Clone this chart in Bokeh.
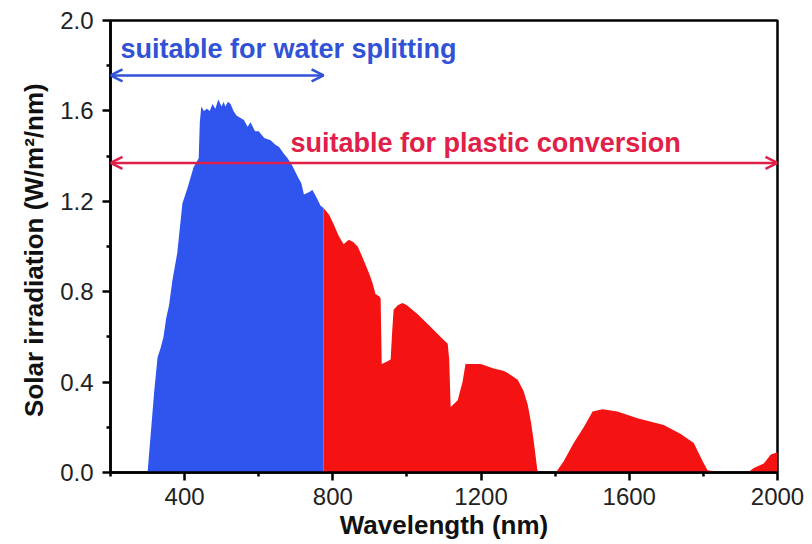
from bokeh.plotting import figure
from bokeh.models import (Arrow, OpenHead, Label, FixedTicker, PrintfTickFormatter, Range1d)
from bokeh.embed import file_html
from bokeh.resources import INLINE

# ---- data ----
wl_visible = [280, 300, 310, 318, 327, 335, 343, 350, 358, 367, 380, 394, 400, 408, 424, 438, 441, 445,
              452, 460, 468, 475, 483, 491, 500, 505, 510, 517, 524, 532, 540, 550, 560, 570, 578, 590,
              600, 615, 632, 645, 655, 668, 678, 690, 705, 715, 722, 735, 745, 755, 767, 775]
irr_visible = [0.0, 0.0, 0.20, 0.36, 0.51, 0.55, 0.60, 0.68, 0.74, 0.85, 0.97, 1.19, 1.22, 1.26, 1.35, 1.39, 1.55, 1.62,
               1.60, 1.61, 1.60, 1.63, 1.61, 1.65, 1.62, 1.64, 1.62, 1.64, 1.63, 1.60, 1.58, 1.57, 1.56, 1.53, 1.55, 1.51,
               1.51, 1.48, 1.47, 1.45, 1.44, 1.41, 1.39, 1.36, 1.31, 1.28, 1.23, 1.24, 1.25, 1.22, 1.18, 1.17]

wl_ir = [775, 790, 802, 815, 829, 843, 855, 867, 878, 888, 898, 907, 915, 925, 929, 932, 945, 956, 960,
         964, 975, 988, 1000, 1029, 1060, 1091, 1110, 1114, 1118, 1137, 1150, 1158, 1180, 1199, 1234,
         1260, 1272, 1299, 1315, 1326, 1335, 1342, 1352, 1360, 1400, 1406, 1423, 1450, 1477, 1501, 1528,
         1568, 1622, 1693, 1739, 1774, 1798, 1811, 1850, 1920, 1936, 1963, 1982, 2000]
irr_ir = [1.17, 1.14, 1.10, 1.05, 1.01, 1.03, 1.02, 1.00, 0.96, 0.92, 0.88, 0.84, 0.79, 0.78, 0.77, 0.48,
          0.49, 0.50, 0.62, 0.72, 0.74, 0.75, 0.74, 0.70, 0.65, 0.60, 0.57, 0.50, 0.29, 0.32, 0.40, 0.48,
          0.48, 0.48, 0.46, 0.45, 0.44, 0.41, 0.36, 0.30, 0.22, 0.14, 0.01, 0.0, 0.0, 0.01, 0.05, 0.13,
          0.20, 0.27, 0.28, 0.27, 0.24, 0.21, 0.17, 0.13, 0.05, 0.01, 0.0, 0.0, 0.02, 0.04, 0.08, 0.09]

x_ticks = [400, 800, 1200, 1600, 2000]
x_minor = [200, 600, 1000, 1400, 1800]
y_ticks = [0.0, 0.4, 0.8, 1.2, 1.6, 2.0]
y_minor = [0.2, 0.6, 1.0, 1.4, 1.8]

water_range = (200, 775)
water_arrow_y = 1.757
water_text = "suitable for water splitting"
water_text_pos = (227, 1.876)

plastic_range = (200, 2000)
plastic_arrow_y = 1.37
plastic_text = "suitable for plastic conversion"
plastic_text_pos = (686, 1.46)

BLUE = "#2f55ee"
RED = "#f41212"
BLUE_TXT = "#3152d6"
RED_TXT = "#e02048"
FONT = "Liberation Sans"

p = figure(width=812, height=544, output_backend="svg", toolbar_location=None,
           x_range=Range1d(200, 2000), y_range=Range1d(0, 2.0),
           min_border_left=110, min_border_right=35, min_border_top=20, min_border_bottom=72)

p.varea(x=wl_visible, y1=0, y2=irr_visible, fill_color=BLUE)
p.varea(x=wl_ir, y1=0, y2=irr_ir, fill_color=RED)

p.xgrid.visible = False
p.ygrid.visible = False
p.outline_line_color = "black"
p.outline_line_width = 2.5
p.background_fill_color = "white"
p.border_fill_color = "white"

for ax in (p.xaxis[0], p.yaxis[0]):
    ax.axis_line_width = 2.5
    ax.axis_line_color = "black"
    ax.major_tick_line_width = 2.5
    ax.minor_tick_line_width = 2.5
    ax.major_tick_in = 0
    ax.major_tick_out = 8
    ax.minor_tick_in = 0
    ax.minor_tick_out = 4
    ax.major_label_text_font = FONT
    ax.major_label_text_font_size = "24px"
    ax.major_label_text_color = "#222222"
    ax.axis_label_text_font = FONT
    ax.axis_label_text_font_style = "bold"
    ax.axis_label_text_font_size = "26px"
    ax.axis_label_text_color = "#111111"

p.xaxis.ticker = FixedTicker(ticks=x_ticks, minor_ticks=x_minor)
p.yaxis.ticker = FixedTicker(ticks=y_ticks, minor_ticks=y_minor)
p.yaxis.formatter = PrintfTickFormatter(format="%.1f")
p.xaxis.major_label_standoff = 7
p.yaxis.major_label_standoff = 9
p.xaxis.axis_label = "Wavelength (nm)"
p.yaxis.axis_label = "Solar irradiation  (W/m²/nm)"
p.xaxis.axis_label_standoff = 2
p.yaxis.axis_label_standoff = 8

p.add_layout(Arrow(start=OpenHead(size=12, line_color=BLUE_TXT, line_width=2.5),
                   end=OpenHead(size=12, line_color=BLUE_TXT, line_width=2.5),
                   x_start=water_range[0], x_end=water_range[1],
                   y_start=water_arrow_y, y_end=water_arrow_y,
                   line_color=BLUE_TXT, line_width=2.5))
p.add_layout(Arrow(start=OpenHead(size=12, line_color=RED_TXT, line_width=2.5),
                   end=OpenHead(size=12, line_color=RED_TXT, line_width=2.5),
                   x_start=plastic_range[0], x_end=plastic_range[1],
                   y_start=plastic_arrow_y, y_end=plastic_arrow_y,
                   line_color=RED_TXT, line_width=2.5))

p.add_layout(Label(x=water_text_pos[0], y=water_text_pos[1], text=water_text,
                   text_font=FONT, text_font_style="bold", text_font_size="27px",
                   text_color=BLUE_TXT, text_baseline="middle", text_align="left"))
p.add_layout(Label(x=plastic_text_pos[0], y=plastic_text_pos[1], text=plastic_text,
                   text_font=FONT, text_font_style="bold", text_font_size="27px",
                   text_color=RED_TXT, text_baseline="middle", text_align="left"))

open("out.html", "w").write(file_html(p, INLINE))
